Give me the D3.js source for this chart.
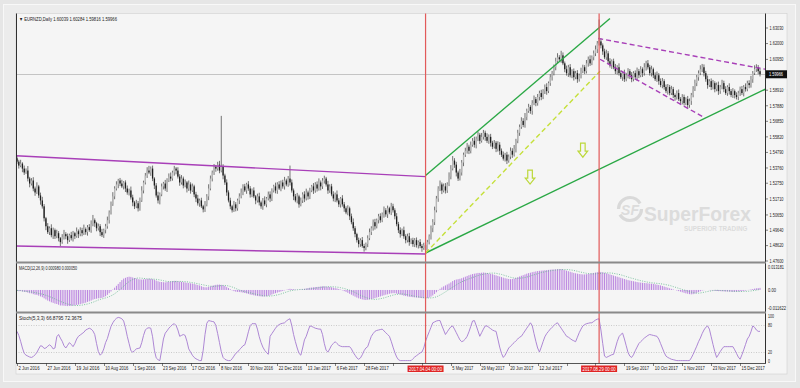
<!DOCTYPE html>
<html>
<head>
<meta charset="utf-8">
<script src="https://cdn.jsdelivr.net/npm/d3@7"></script>
<style>
  body { margin: 0; background: #e6e6e6; }
  svg { display: block; font-family: "Liberation Sans", Arial, sans-serif; }
  .tiny { font-size: 5.4px; fill: #222; }
</style>
</head>
<body>
<svg id="chart" width="800" height="388"></svg>
<script>
// ---- data ----
const symbolTitle = "\u25BC EURNZD,Daily  1.60039 1.60284 1.59816 1.59966";
const macdTitle = "MACD(12,26,9) 0.000980 0.000050";
const stochTitle = "Stoch(5,3,3) 66.8795 72.3675";
const lastPrice = 1.59966;
const firstOpen = 1.5440;

const closes = [
  1.5418,1.5392,1.5405,1.5372,1.5346,1.5359,1.5306,1.5273,1.5293,1.5240,
  1.5214,1.5254,1.5194,1.5161,1.5122,1.5043,1.4990,1.4951,1.4977,1.4931,
  1.4964,1.4924,1.4944,1.4911,1.4885,1.4918,1.4938,1.4924,1.4898,1.4931,
  1.4911,1.4944,1.4924,1.4957,1.4938,1.4964,1.4944,1.4971,1.4951,1.4984,
  1.4964,1.5003,1.5030,1.5010,1.4977,1.4990,1.4951,1.4931,1.4964,1.4990,
  1.5030,1.5082,1.5135,1.5188,1.5240,1.5267,1.5293,1.5273,1.5254,1.5280,
  1.5240,1.5214,1.5227,1.5181,1.5148,1.5122,1.5142,1.5109,1.5161,1.5227,
  1.5280,1.5326,1.5359,1.5346,1.5372,1.5306,1.5260,1.5194,1.5161,1.5201,
  1.5254,1.5273,1.5240,1.5293,1.5319,1.5306,1.5346,1.5372,1.5359,1.5319,
  1.5280,1.5306,1.5260,1.5280,1.5240,1.5267,1.5227,1.5254,1.5201,1.5174,
  1.5142,1.5161,1.5122,1.5102,1.5135,1.5188,1.5240,1.5306,1.5346,1.5385,
  1.5372,1.5398,1.5359,1.5385,1.5326,1.5280,1.5214,1.5161,1.5122,1.5096,
  1.5135,1.5109,1.5161,1.5188,1.5214,1.5254,1.5227,1.5267,1.5240,1.5201,
  1.5227,1.5188,1.5161,1.5188,1.5148,1.5122,1.5161,1.5135,1.5174,1.5201,
  1.5174,1.5227,1.5254,1.5227,1.5267,1.5240,1.5280,1.5254,1.5293,1.5267,
  1.5306,1.5280,1.5227,1.5188,1.5161,1.5188,1.5135,1.5161,1.5201,1.5174,
  1.5214,1.5188,1.5227,1.5254,1.5227,1.5267,1.5240,1.5280,1.5254,1.5293,
  1.5306,1.5267,1.5227,1.5254,1.5201,1.5174,1.5201,1.5161,1.5135,1.5174,
  1.5135,1.5109,1.5082,1.5109,1.5056,1.5017,1.4977,1.4938,1.4898,1.4872,
  1.4898,1.4859,1.4846,1.4872,1.4911,1.4951,1.4977,1.5017,1.4990,1.5030,
  1.5056,1.5030,1.5069,1.5096,1.5069,1.5109,1.5082,1.5122,1.5096,1.5056,
  1.5004,1.4964,1.4938,1.4964,1.4924,1.4898,1.4924,1.4885,1.4898,1.4872,
  1.4898,1.4865,1.4885,1.4859,1.4846,1.4865,1.4832,1.4885,1.4924,1.4977,
  1.5017,1.5096,1.5174,1.5240,1.5267,1.5227,1.5254,1.5227,1.5267,1.5319,
  1.5372,1.5425,1.5398,1.5346,1.5306,1.5346,1.5412,1.5464,1.5490,1.5517,
  1.5490,1.5530,1.5556,1.5530,1.5569,1.5596,1.5556,1.5582,1.5609,1.5582,
  1.5556,1.5582,1.5543,1.5517,1.5543,1.5503,1.5530,1.5490,1.5464,1.5438,
  1.5464,1.5425,1.5451,1.5490,1.5464,1.5503,1.5556,1.5609,1.5648,1.5688,
  1.5661,1.5714,1.5754,1.5780,1.5754,1.5806,1.5832,1.5806,1.5846,1.5872,
  1.5846,1.5885,1.5912,1.5885,1.5938,1.5977,1.6004,1.6043,1.6083,1.6109,
  1.6096,1.6122,1.6069,1.6030,1.6004,1.6043,1.5990,1.6017,1.5977,1.6004,
  1.5964,1.5990,1.6017,1.6043,1.6017,1.6069,1.6096,1.6069,1.6109,1.6135,
  1.6162,1.6201,1.6214,1.6188,1.6148,1.6109,1.6135,1.6083,1.6056,1.6083,
  1.6043,1.6017,1.6043,1.6004,1.5977,1.6004,1.5964,1.5990,1.6017,1.5990,
  1.5964,1.6004,1.5977,1.6017,1.5990,1.6030,1.6004,1.6043,1.6069,1.6043,
  1.6004,1.6030,1.5990,1.5964,1.5990,1.5951,1.5925,1.5951,1.5912,1.5885,
  1.5912,1.5872,1.5898,1.5859,1.5846,1.5872,1.5832,1.5819,1.5846,1.5806,
  1.5832,1.5793,1.5819,1.5859,1.5898,1.5938,1.5977,1.6004,1.6030,1.6043,
  1.6004,1.5964,1.5925,1.5951,1.5912,1.5938,1.5898,1.5925,1.5885,1.5912,
  1.5938,1.5898,1.5872,1.5912,1.5885,1.5859,1.5885,1.5859,1.5846,1.5872,
  1.5898,1.5872,1.5912,1.5898,1.5938,1.5925,1.5964,1.6004,1.6030,1.6043,
  1.6017,1.5997
];

// wick lengths beyond the body, in pips
const wickUp = [
  18,12,25,9,20,14,30,11,16,22, 13,27,10,19,24,15,9,21,12,26,
  17,11,23,14,8,20,28,13,18,10, 22,15,9,25,12,19,16,30,11,14,
  20,26,35,12,9,18,14,22,10,16, 24,13,19,28,15,21,11,17,25,9,
  14,20,12,26,18,10,23,15,19,28, 12,17,22,31,14,20,9,16,25,13,
  19,11,24,15,21,27,12,18,10,22, 16,23,13,20,9,26,14,19,11,17,
  24,12,18,10,22,15,28,20,13,17, 11,19,25,336,16,12,21,14,18,10,
  23,15,12,20,26,14,17,11,22,16, 13,21,9,18,24,12,16,27,10,19,
  20,14,11,25,15,22,13,18,24,12, 17,86,20,13,16,23,11,19,14,21,
  25,12,18,10,22,15,20,27,13,16, 19,11,24,14,17,21,12,26,15,10,
  22,16,13,20,11,18,25,14,9,17, 12,21,15,10,19,24,13,18,22,11,
  16,20,12,25,14,18,10,23,17,13, 21,15,19,11,24,13,17,22,12,16,
  14,18,11,20,13,16,9,15,12,18, 20,24,17,15,26,13,19,22,14,28,
  23,30,16,19,12,24,17,14,20,25, 13,21,18,27,15,22,12,26,19,14,
  24,16,20,13,18,11,23,17,15,21, 12,19,14,22,17,25,13,20,16,24,
  18,26,15,21,12,19,24,14,20,16, 22,13,17,25,11,20,15,18,23,27,
  14,30,19,12,24,16,21,13,18,15, 20,11,23,17,14,22,18,26,12,19,
  25,16,145,21,13,18,24,15,20,12, 17,22,14,26,19,11,23,16,20,14,
  21,13,18,24,15,20,12,27,17,22, 16,23,11,19,25,14,18,21,13,17,
  20,14,22,15,11,18,24,13,19,16, 12,21,17,14,20,23,15,18,26,22,
  19,15,24,13,18,21,12,17,23,14, 22,16,19,12,25,14,20,11,18,15,
  17,21,13,24,16,19,22,14,26,20, 15,18
];
const wickDn = [
  14,20,11,24,16,9,19,25,13,18, 22,10,17,28,15,21,26,12,19,14,
  25,18,13,21,27,11,16,20,24,12, 15,22,19,10,26,14,20,12,17,23,
  11,17,13,24,20,15,26,12,18,21, 16,22,14,10,19,13,25,17,11,20,
  23,15,20,14,25,18,12,21,16,10, 19,13,16,11,22,17,24,14,20,26,
  12,20,15,23,10,18,14,21,25,13, 22,14,19,12,26,16,21,10,18,24,
  15,23,11,20,17,13,25,12,19,16, 21,14,18,12,25,16,22,13,19,15,
  11,20,16,24,13,18,10,22,15,21, 18,12,25,14,20,16,23,11,19,13,
  24,17,13,19,22,10,18,15,21,12, 16,20,14,25,12,19,22,13,17,24,
  13,21,18,11,23,15,20,14,26,17, 20,14,22,16,12,19,24,13,18,21,
  15,23,12,19,25,14,17,21,16,22, 18,11,24,15,20,13,19,16,22,14,
  21,17,13,22,16,24,12,18,15,20, 14,19,23,12,17,21,15,24,13,18,
  20,16,22,14,25,12,19,18,15,22, 26,19,14,22,17,24,13,20,16,11,
  18,12,21,26,16,13,20,24,15,19, 22,17,13,19,24,15,21,12,18,26,
  14,20,25,16,12,22,18,27,15,13, 19,23,14,17,21,12,24,16,20,13,
  15,18,22,13,19,25,14,21,17,23, 21,14,19,24,13,18,22,15,20,12,
  17,23,12,20,16,25,14,19,22,13, 24,16,21,13,19,15,22,17,12,20,
  18,25,14,20,23,12,17,21,15,24, 13,19,22,16,12,24,18,14,21,25,
  20,14,17,23,19,13,25,16,22,15, 16,22,19,12,18,24,14,21,17,13,
  23,15,13,20,24,17,12,19,22,16, 14,21,18,25,15,12,20,23,13,19,
  22,17,24,13,20,16,21,14,25,18, 15,20,12,18,23,14,19,22,16,21,
  19,13,22,16,14,21,17,24,12,18, 20,15
];

// MACD main and signal, units of 0.0001
const macdMain = [
  -4,-6,-5,-8,-10,-11,-14,-17,-18,-22, -25,-26,-30,-34,-38,-44,-50,-56,-60,-65,
  -68,-72,-74,-78,-82,-82,-83,-84,-85,-84, -84,-82,-81,-79,-77,-75,-72,-70,-67,-63,
  -60,-56,-51,-48,-46,-44,-43,-42,-38,-33, -26,-17,-8,2,12,22,32,42,52,60,
  64,68,70,69,66,63,60,57,56,55, 56,57,58,60,59,57,54,50,46,43,
  42,41,40,42,44,45,47,48,48,46, 44,43,41,40,38,37,35,34,32,29,
  26,24,20,16,14,14,16,19,22,25, 27,28,28,27,25,21,15,10,4,-2,
  -6,-9,-10,-11,-12,-14,-16,-18,-21,-24, -26,-28,-30,-32,-33,-34,-35,-34,-33,-31,
  -28,-24,-20,-17,-14,-11,-8,-5,-2,1, 4,6,5,4,2,1,1,2,4,6,
  8,10,12,13,14,15,16,17,18,19, 19,18,17,16,14,12,10,8,5,2,
  -2,-6,-10,-15,-20,-25,-30,-35,-40,-44, -47,-50,-52,-53,-52,-50,-48,-46,-43,-40,
  -37,-34,-31,-28,-25,-23,-20,-18,-17,-17, -19,-21,-24,-27,-30,-32,-34,-36,-37,-38,
  -39,-40,-41,-42,-43,-44,-45,-43,-40,-35, -29,-21,-12,-3,6,13,19,24,29,34,
  40,47,52,55,57,59,62,66,70,74, 78,81,84,86,88,90,90,91,92,91,
  89,87,85,83,80,77,74,71,68,65, 62,60,58,57,58,60,63,67,71,75,
  78,82,86,89,91,94,96,98,100,101, 102,103,104,105,106,107,108,108,109,110,
  110,110,108,105,102,99,96,93,90,88, 86,84,83,82,82,83,84,86,88,90,
  92,94,96,95,93,90,88,85,82,79, 76,73,70,67,64,61,58,55,52,50,
  48,46,44,42,40,39,38,37,36,35, 34,33,32,30,28,26,24,21,18,15,
  12,9,6,3,0,-3,-6,-9,-12,-15, -18,-20,-22,-23,-22,-19,-15,-11,-7,-3,
  -1,0,0,-1,-2,-3,-4,-5,-6,-6, -7,-7,-8,-8,-9,-9,-10,-10,-9,-8,
  -7,-6,-5,-3,-1,1,3,5,7,9, 10,11
];
const macdSignal = [
  -2,-3,-4,-5,-6,-7,-8,-9,-11,-12, -14,-16,-18,-20,-22,-25,-28,-31,-35,-39,
  -43,-47,-52,-56,-60,-64,-68,-71,-74,-77, -79,-81,-82,-82,-82,-81,-80,-78,-76,-74,
  -71,-68,-65,-61,-57,-53,-50,-47,-45,-42, -39,-35,-31,-26,-20,-13,-5,3,11,20,
  29,37,44,50,55,59,62,63,63,62, 61,60,59,58,58,58,57,56,55,53,
  51,49,47,45,44,44,44,44,44,45, 45,45,44,44,43,42,40,39,37,35,
  33,31,29,27,25,23,21,20,19,19, 20,21,22,23,24,24,23,21,19,16,
  12,8,4,0,-3,-6,-9,-11,-13,-15, -18,-20,-22,-24,-26,-28,-30,-31,-32,-32,
  -32,-31,-30,-28,-26,-24,-21,-18,-14,-11, -8,-5,-3,-1,0,1,2,3,3,3,
  4,5,6,7,8,10,11,12,14,15, 16,16,17,17,17,17,16,15,14,12,
  10,8,5,2,-1,-5,-9,-13,-18,-23, -28,-32,-36,-40,-43,-46,-48,-49,-50,-49,
  -48,-46,-44,-42,-39,-36,-33,-30,-27,-25, -23,-22,-21,-21,-22,-23,-25,-27,-29,-31,
  -33,-35,-36,-38,-39,-40,-41,-42,-42,-42, -41,-39,-36,-32,-27,-22,-16,-10,-4,3,
  9,15,21,27,33,38,43,47,51,55, 59,62,66,69,73,76,79,81,83,85,
  87,88,89,89,89,88,86,84,82,79, 76,73,70,67,65,63,62,62,62,63,
  64,66,68,71,74,77,80,83,86,89, 92,94,96,98,100,101,103,104,105,106,
  107,107,108,108,108,107,106,105,103,101, 99,96,94,92,90,88,87,86,85,85,
  85,86,87,88,89,90,90,90,90,89, 88,86,84,82,80,77,74,71,68,65,
  62,60,57,54,52,49,47,45,43,41, 40,38,37,36,35,34,33,31,30,28,
  26,24,21,18,15,12,9,6,3,0, -3,-6,-9,-11,-14,-16,-17,-17,-16,-14,
  -12,-10,-8,-6,-5,-3,-2,-2,-2,-3, -3,-4,-4,-5,-5,-6,-7,-7,-8,-8,
  -8,-8,-8,-7,-7,-6,-5,-4,-2,-1, 1,2
];

const stochMain = [
  67,58,45,30,18,14,12,10,9,11, 15,20,28,35,34,29,30,34,37,34,
  28,30,55,60,52,45,35,30,36,42, 38,33,40,50,56,59,62,65,70,72,
  74,72,68,60,40,22,14,18,28,42, 51,65,78,86,92,96,98,97,95,90,
  75,56,40,24,21,24,28,29,30,42, 58,70,74,75,74,55,25,8,4,2,
  25,50,63,68,74,78,82,84,80,70, 56,58,60,58,45,28,21,14,9,6,
  4,2,2,25,60,85,91,90,89,88, 80,62,42,22,9,5,3,2,2,6,
  12,18,21,26,30,35,37,50,66,80, 84,84,84,72,55,42,32,25,20,16,
  56,62,68,74,79,82,84,85,86,90, 93,95,80,60,44,30,18,14,30,48,
  56,68,79,78,76,74,73,72,72,60, 40,25,21,28,36,40,44,40,36,34,
  33,33,33,33,33,28,20,14,8,5, 8,15,24,30,33,45,56,62,67,69,
  70,71,72,68,64,60,56,45,32,20, 10,4,2,2,2,2,2,2,2,6,
  10,13,16,19,21,30,45,56,66,76, 86,88,90,91,91,80,70,60,66,72,
  77,79,72,64,56,48,44,46,50,56, 66,78,90,91,80,68,56,64,72,79,
  79,76,73,70,68,67,50,32,18,9, 14,22,30,34,38,42,46,50,54,56,
  62,68,74,80,86,80,62,45,30,21, 32,44,55,62,67,72,76,80,84,86,
  80,74,68,62,56,54,51,48,46,44, 54,64,72,79,82,84,85,86,86,89,
  92,94,95,70,40,12,9,11,13,15, 16,30,44,55,60,63,50,35,20,12,
  9,15,24,32,40,44,48,52,55,58, 60,59,58,57,56,50,40,30,20,12,
  9,7,5,4,3,2,2,2,2,2, 2,2,2,8,16,25,34,44,52,62,
  70,76,79,72,55,38,22,9,15,22, 28,33,33,33,33,33,33,26,18,10,
  5,15,26,38,50,56,66,79,76,70, 67,67
];

const priceTicks = ["1.63030","1.62000","1.60950","1.58910","1.57880","1.56850","1.55820",
  "1.54790","1.53760","1.52750","1.51710","1.50650","1.49640","1.48620","1.47600"];
const priceTickValues = [1.6303,1.6200,1.6095,1.5891,1.5788,1.5685,1.5582,
  1.5479,1.5376,1.5275,1.5171,1.5065,1.4964,1.4862,1.4760];

const dateLabels = ["2 Jun 2016","27 Jun 2016","19 Jul 2016","10 Aug 2016","1 Sep 2016",
  "23 Sep 2016","17 Oct 2016","8 Nov 2016","30 Nov 2016","22 Dec 2016","13 Jan 2017",
  "6 Feb 2017","28 Feb 2017","22 Mar 2017","13 Apr 2017","5 May 2017","29 May 2017",
  "20 Jun 2017","12 Jul 2017","3 Aug 2017","25 Aug 2017","19 Sep 2017","10 Oct 2017",
  "1 Nov 2017","23 Nov 2017","15 Dec 2017"];
const dateLabelStep = 16;

const macdLevels = [{ v: 0.013181, t: "0.013181" }, { v: 0, t: "0.00" }, { v: -0.011622, t: "-0.011622" }];
const stochLevels = [100, 80, 20, 0];

// vertical marker lines: bar index + date label
const vMarkers = [{ bar: 226, text: "2017.04.04 00:00" }, { bar: 322, text: "2017.08.29 00:00" }];

// trendlines as [bar, price] pairs
const trendLines = [
  { p: [[-0.5, 1.5457], [226, 1.5319]], color: "#a83fb8", dash: null },
  { p: [[-0.5, 1.4859], [226, 1.4806]], color: "#a83fb8", dash: null },
  { p: [[226, 1.5326], [328, 1.6366]], color: "#2aa845", dash: null },
  { p: [[226, 1.4813], [414, 1.5898]], color: "#2aa845", dash: null },
  { p: [[226, 1.4813], [322.5, 1.6017]], color: "#c5e03a", dash: "5,3" },
  { p: [[321.5, 1.6234], [414, 1.6030]], color: "#a83fb8", dash: "5,3" },
  { p: [[322.5, 1.6096], [380.5, 1.5708]], color: "#a83fb8", dash: "5,3" }
];
const arrows = [[283.8, 1.5362], [313, 1.5540]];

// ---- layout ----
const svg = d3.select("#chart");
const plot = { left: 16, right: 765, top: 13.5, mainBottom: 262, macdTop: 263, macdBottom: 312, stTop: 313, stBottom: 363, axisBottom: 374 };

const n = closes.length;
const x = d3.scaleLinear().domain([0, n - 1]).range([17, 760]);
const y = d3.scaleLinear().domain([1.4760, 1.6303]).range([261, 28]);
const yM = d3.scaleLinear().domain([-0.011622, 0.013181]).range([312, 265]);
const yS = d3.scaleLinear().domain([0, 100]).range([361.5, 316.5]);
const px = (v) => Math.round(v) + 0.5;

// squeeze text to the narrow terminal font width
function fit(sel, perChar) {
  sel.attr("textLength", (d, i, nodes) => nodes[i].textContent.length * perChar)
    .attr("lengthAdjust", "spacingAndGlyphs");
  return sel;
}

const candles = closes.map((c, i) => {
  const o = i ? closes[i - 1] : firstOpen;
  return {
    i, o, c,
    h: Math.max(o, c) + wickUp[i] * 1e-4,
    l: Math.min(o, c) - wickDn[i] * 1e-4
  };
});

// frame + backgrounds
svg.append("rect").attr("width", 800).attr("height", 388).attr("fill", "#e6e6e6");
svg.append("rect").attr("x", 3.5).attr("y", 4.5).attr("width", 792).attr("height", 377)
  .attr("fill", "#ececec").attr("stroke", "#f8f8f8");
svg.append("rect").attr("x", plot.left).attr("y", plot.top)
  .attr("width", 771).attr("height", plot.axisBottom - plot.top)
  .attr("fill", "#f5f5f5").attr("stroke", "#d0d0d0").attr("stroke-width", 0.6);

const defs = svg.append("defs");
defs.append("clipPath").attr("id", "clipMain").append("rect")
  .attr("x", plot.left).attr("y", plot.top).attr("width", plot.right - plot.left).attr("height", plot.mainBottom - plot.top);
defs.append("clipPath").attr("id", "clipMacd").append("rect")
  .attr("x", plot.left).attr("y", plot.macdTop).attr("width", plot.right - plot.left).attr("height", plot.macdBottom - plot.macdTop);
defs.append("clipPath").attr("id", "clipSt").append("rect")
  .attr("x", plot.left).attr("y", plot.stTop).attr("width", plot.right - plot.left).attr("height", plot.stBottom - plot.stTop);

// watermark (one text element, brand line + tagline)
const wm = svg.append("g").attr("fill", "#dcdcdc");
wm.append("circle").attr("cx", 630).attr("cy", 209).attr("r", 11.5)
  .attr("fill", "none").attr("stroke", "#d9d9d9").attr("stroke-width", 3.2).attr("stroke-dasharray", "30,6");
wm.append("text").attr("x", 630).attr("y", 214.5).attr("text-anchor", "middle")
  .attr("font-size", 14).attr("font-weight", "bold").attr("font-style", "italic").text("SF");
const wmText = wm.append("text").attr("font-weight", "bold");
wmText.append("tspan").attr("x", 644).attr("y", 220.5).attr("font-size", 20)
  .attr("textLength", 107).attr("lengthAdjust", "spacingAndGlyphs").text("SuperForex");
wmText.append("tspan").attr("x", 684).attr("y", 230.5).attr("font-size", 6.3).text("SUPERIOR TRADING");

// current price line
svg.append("line").attr("x1", plot.left).attr("x2", plot.right)
  .attr("y1", px(y(lastPrice))).attr("y2", px(y(lastPrice))).attr("stroke", "#b8b8b8").attr("stroke-width", 0.8);

// candles
const cg = svg.append("g").attr("clip-path", "url(#clipMain)");
cg.selectAll("line.wick").data(candles).join("line").attr("class", "wick")
  .attr("x1", (d) => x(d.i)).attr("x2", (d) => x(d.i))
  .attr("y1", (d) => y(d.h)).attr("y2", (d) => y(d.l))
  .attr("stroke", "#3a3a3a").attr("stroke-width", 0.7);
cg.selectAll("rect.body").data(candles).join("rect").attr("class", "body")
  .attr("x", (d) => x(d.i) - 0.65).attr("width", 1.3)
  .attr("y", (d) => y(Math.max(d.o, d.c)))
  .attr("height", (d) => Math.max(0.6, Math.abs(y(d.o) - y(d.c))))
  .attr("fill", (d) => (d.c >= d.o ? "#b8b8b8" : "#1e1e1e"));

// trendlines
const tl = svg.append("g").attr("clip-path", "url(#clipMain)");
tl.selectAll("line").data(trendLines).join("line")
  .attr("x1", (d) => x(d.p[0][0])).attr("y1", (d) => y(d.p[0][1]))
  .attr("x2", (d) => x(d.p[1][0])).attr("y2", (d) => y(d.p[1][1]))
  .attr("stroke", (d) => d.color).attr("stroke-width", 1.4)
  .attr("stroke-dasharray", (d) => d.dash);

tl.selectAll("path.arrow").data(arrows).join("path").attr("class", "arrow")
  .attr("transform", (d) => `translate(${x(d[0])},${y(d[1])})`)
  .attr("d", "M-2.3,0 L2.3,0 L2.3,8 L4.8,8 L0,14 L-4.8,8 L-2.3,8 Z")
  .attr("fill", "none").attr("stroke", "#bcd83a").attr("stroke-width", 1.2);

// MACD
const mg = svg.append("g").attr("clip-path", "url(#clipMacd)");
mg.selectAll("line").data(macdMain).join("line")
  .attr("x1", (d, i) => x(i)).attr("x2", (d, i) => x(i))
  .attr("y1", yM(0)).attr("y2", (d) => yM(d * 1e-4))
  .attr("stroke", "#bb86e0").attr("stroke-width", 1);
mg.append("path").datum(macdSignal)
  .attr("d", d3.line().x((d, i) => x(i)).y((d) => yM(d * 1e-4)))
  .attr("fill", "none").attr("stroke", "#5fb58c").attr("stroke-width", 0.8).attr("stroke-dasharray", "1,1.4");

// Stochastic
const sg = svg.append("g").attr("clip-path", "url(#clipSt)");
sg.selectAll("line.lvl").data([80, 20]).join("line").attr("class", "lvl")
  .attr("x1", plot.left).attr("x2", plot.right).attr("y1", (d) => yS(d)).attr("y2", (d) => yS(d))
  .attr("stroke", "#a0a0a0").attr("stroke-width", 0.5).attr("stroke-dasharray", "1,1.5");
sg.append("path").datum(stochMain)
  .attr("d", d3.line().x((d, i) => x(i)).y((d) => yS(d)))
  .attr("fill", "none").attr("stroke", "#a57bd0").attr("stroke-width", 0.9);

// red vertical marker lines on top of the panels
svg.append("g").selectAll("rect").data(vMarkers).join("rect")
  .attr("x", (d) => x(d.bar) - 0.6).attr("width", 1.2)
  .attr("y", plot.top).attr("height", plot.stBottom - plot.top)
  .attr("fill", "#e25a5a");

// panel borders
const bl = svg.append("g").attr("stroke", "#303030").attr("stroke-width", 1);
bl.append("line").attr("x1", plot.left + 0.5).attr("x2", plot.left + 0.5).attr("y1", plot.top).attr("y2", plot.stBottom);
bl.append("line").attr("x1", plot.right + 0.5).attr("x2", plot.right + 0.5).attr("y1", plot.top).attr("y2", plot.stBottom);
svg.append("line").attr("x1", plot.left).attr("x2", plot.right + 1).attr("y1", plot.mainBottom + 0.5).attr("y2", plot.mainBottom + 0.5)
  .attr("stroke", "#8a8a8a").attr("stroke-width", 2);
svg.append("line").attr("x1", plot.left).attr("x2", plot.right + 1).attr("y1", plot.macdBottom + 0.5).attr("y2", plot.macdBottom + 0.5)
  .attr("stroke", "#8a8a8a").attr("stroke-width", 2);
svg.append("line").attr("x1", plot.left).attr("x2", plot.right + 1).attr("y1", plot.stBottom + 0.5).attr("y2", plot.stBottom + 0.5)
  .attr("stroke", "#555").attr("stroke-width", 1);

// price axis
const pa = svg.append("g");
pa.selectAll("line").data(priceTickValues).join("line")
  .attr("x1", plot.right).attr("x2", plot.right + 3).attr("y1", (d) => y(d)).attr("y2", (d) => y(d))
  .attr("stroke", "#333").attr("stroke-width", 0.6);
fit(pa.selectAll("text.pt").data(priceTicks).join("text").attr("class", "tiny pt")
  .attr("x", plot.right + 4.5).attr("y", (d, i) => y(priceTickValues[i]) + 1.9).text((d) => d), 2.0);
pa.append("rect").attr("x", plot.right + 1).attr("y", y(lastPrice) - 4).attr("width", 21).attr("height", 8).attr("fill", "#111");
fit(pa.append("text").attr("class", "tiny").attr("x", plot.right + 4).attr("y", y(lastPrice) + 1.9)
  .style("fill", "#fff").text(lastPrice.toFixed(5)), 2.0);

fit(pa.selectAll("text.ml").data(macdLevels).join("text").attr("class", "tiny ml")
  .attr("x", plot.right + 3).attr("y", (d) => Math.min(Math.max(yM(d.v) + 2, 269), 309.5)).text((d) => d.t), 2.0);
fit(pa.selectAll("text.sl").data(stochLevels).join("text").attr("class", "tiny sl")
  .attr("x", plot.right + 3).attr("y", (d) => yS(d) + 1.9).text((d) => d), 2.0);

// date axis
const boxHalf = 18;
const hiddenByMarker = (i) => vMarkers.some((m) => {
  const lx = x(i * dateLabelStep) + 1, rx = lx + dateLabels[i].length * 2.1;
  return rx > x(m.bar) - boxHalf && lx < x(m.bar) + boxHalf;
});
const da = svg.append("g");
da.selectAll("line").data(dateLabels).join("line")
  .attr("x1", (d, i) => px(x(i * dateLabelStep))).attr("x2", (d, i) => px(x(i * dateLabelStep)))
  .attr("y1", plot.stBottom).attr("y2", plot.stBottom + 3).attr("stroke", "#333").attr("stroke-width", 0.6);
fit(da.selectAll("text").data(dateLabels.filter((d, i) => !hiddenByMarker(i))).join("text").attr("class", "tiny")
  .attr("x", (d) => x(dateLabels.indexOf(d) * dateLabelStep) + 1.5).attr("y", 370).text((d) => d), 2.1);
const mk = da.selectAll("g.mk").data(vMarkers).join("g").attr("class", "mk")
  .attr("transform", (d) => `translate(${x(d.bar)},0)`);
mk.append("rect").attr("x", -boxHalf).attr("y", 365.5).attr("width", boxHalf * 2).attr("height", 6.5).attr("fill", "#e02424");
mk.append("text").attr("class", "tiny").attr("x", -16.5).attr("y", 370.5)
  .attr("textLength", 33).attr("lengthAdjust", "spacingAndGlyphs")
  .style("fill", "#fff").text((d) => d.text);

// panel titles
svg.append("text").attr("class", "tiny").attr("x", 19).attr("y", 21)
  .attr("textLength", 98).attr("lengthAdjust", "spacingAndGlyphs").text(symbolTitle);
svg.append("text").attr("class", "tiny").attr("x", 19).attr("y", 269.5)
  .attr("textLength", 58).attr("lengthAdjust", "spacingAndGlyphs").text(macdTitle);
svg.append("text").attr("class", "tiny").attr("x", 19).attr("y", 319.5)
  .attr("textLength", 63).attr("lengthAdjust", "spacingAndGlyphs").text(stochTitle);
</script>
</body>
</html>
